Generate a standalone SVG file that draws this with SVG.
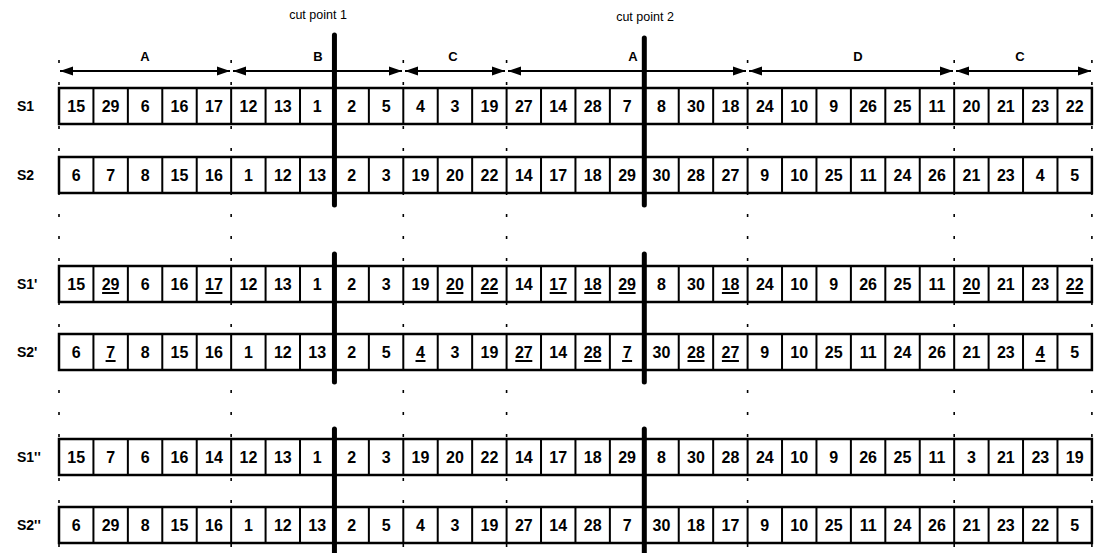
<svg xmlns="http://www.w3.org/2000/svg" width="1100" height="553" viewBox="0 0 1100 553">
<style>
.bg{fill:#fff}
.row{fill:#fff;stroke:#000;stroke-width:2.5}
.div{fill:none;stroke:#000;stroke-width:2}
.num{font-family:"Liberation Sans",Arial,sans-serif;font-weight:bold;font-size:16px;fill:#000;text-anchor:middle}
.lbl{font-family:"Liberation Sans",Arial,sans-serif;font-weight:bold;font-size:14px;fill:#000}
.seg{font-family:"Liberation Sans",Arial,sans-serif;font-weight:bold;font-size:13px;fill:#000;text-anchor:middle}
.cut{font-family:"Liberation Sans",Arial,sans-serif;font-size:12.5px;fill:#000;text-anchor:middle}
.ul{stroke:#000;stroke-width:2}
.cutline{stroke:#000;stroke-width:5;stroke-linecap:round}
.bound{stroke:#000;stroke-width:1.6;stroke-dasharray:3 19;fill:none}
.arr{stroke:#000;stroke-width:2;fill:none;marker-start:url(#ah);marker-end:url(#ah)}
</style>
<defs>
<marker id="ah" markerUnits="userSpaceOnUse" markerWidth="14" markerHeight="10" refX="13" refY="5" orient="auto-start-reverse">
<path d="M0,0.5 L13,5 L0,9.5 z" fill="#000"/>
</marker>
</defs>
<rect class="bg" x="0" y="0" width="1100" height="553"/>

<g id="header">
<text class="cut" x="318" y="19">cut point 1</text>
<text class="cut" x="645" y="21">cut point 2</text>
</g>

<g id="boundaries">
<line class="bound" x1="59" y1="60" x2="59" y2="548"/>
<line class="bound" x1="231.15" y1="60" x2="231.15" y2="548"/>
<line class="bound" x1="403.3" y1="60" x2="403.3" y2="548"/>
<line class="bound" x1="506.59" y1="60" x2="506.59" y2="548"/>
<line class="bound" x1="747.6" y1="60" x2="747.6" y2="548"/>
<line class="bound" x1="954.18" y1="60" x2="954.18" y2="548"/>
<line class="bound" x1="1091.9" y1="60" x2="1091.9" y2="548"/>
</g>

<g id="connectors">
<line class="arr" x1="60" y1="71" x2="230" y2="71"/>
<line class="arr" x1="233" y1="71" x2="402" y2="71"/>
<line class="arr" x1="405" y1="71" x2="505" y2="71"/>
<line class="arr" x1="508" y1="71" x2="746" y2="71"/>
<line class="arr" x1="749" y1="71" x2="953" y2="71"/>
<line class="arr" x1="956" y1="71" x2="1091" y2="71"/>
</g>

<g id="segment-labels">
<text class="seg" x="145" y="61">A</text>
<text class="seg" x="318" y="61">B</text>
<text class="seg" x="453" y="61">C</text>
<text class="seg" x="633" y="61">A</text>
<text class="seg" x="858" y="61">D</text>
<text class="seg" x="1020" y="61">C</text>
</g>

<g id="row-S1">
<text class="lbl" x="17" y="111">S1</text>
<rect class="row" x="59" y="88" width="1032.9" height="36"/>
<path class="div" d="M93.43,88V124M127.86,88V124M162.29,88V124M196.72,88V124M231.15,88V124M265.58,88V124M300.01,88V124M368.87,88V124M403.3,88V124M437.73,88V124M472.16,88V124M506.59,88V124M541.02,88V124M575.45,88V124M609.88,88V124M678.74,88V124M713.17,88V124M747.6,88V124M782.03,88V124M816.46,88V124M850.89,88V124M885.32,88V124M919.75,88V124M954.18,88V124M988.61,88V124M1023.04,88V124M1057.47,88V124"/>
<text class="num" x="76.2" y="112">15</text><text class="num" x="110.6" y="112">29</text><text class="num" x="145.1" y="112">6</text><text class="num" x="179.5" y="112">16</text><text class="num" x="213.9" y="112">17</text><text class="num" x="248.4" y="112">12</text><text class="num" x="282.8" y="112">13</text><text class="num" x="317.2" y="112">1</text>
<text class="num" x="351.7" y="112">2</text><text class="num" x="386.1" y="112">5</text><text class="num" x="420.5" y="112">4</text><text class="num" x="454.9" y="112">3</text><text class="num" x="489.4" y="112">19</text><text class="num" x="523.8" y="112">27</text><text class="num" x="558.2" y="112">14</text><text class="num" x="592.7" y="112">28</text><text class="num" x="627.1" y="112">7</text>
<text class="num" x="661.5" y="112">8</text><text class="num" x="696" y="112">30</text><text class="num" x="730.4" y="112">18</text><text class="num" x="764.8" y="112">24</text><text class="num" x="799.2" y="112">10</text><text class="num" x="833.7" y="112">9</text><text class="num" x="868.1" y="112">26</text><text class="num" x="902.5" y="112">25</text><text class="num" x="937" y="112">11</text><text class="num" x="971.4" y="112">20</text><text class="num" x="1005.8" y="112">21</text><text class="num" x="1040.3" y="112">23</text><text class="num" x="1074.7" y="112">22</text>
</g>

<g id="row-S2">
<text class="lbl" x="17" y="180">S2</text>
<rect class="row" x="59" y="157" width="1032.9" height="36"/>
<path class="div" d="M93.43,157V193M127.86,157V193M162.29,157V193M196.72,157V193M231.15,157V193M265.58,157V193M300.01,157V193M368.87,157V193M403.3,157V193M437.73,157V193M472.16,157V193M506.59,157V193M541.02,157V193M575.45,157V193M609.88,157V193M678.74,157V193M713.17,157V193M747.6,157V193M782.03,157V193M816.46,157V193M850.89,157V193M885.32,157V193M919.75,157V193M954.18,157V193M988.61,157V193M1023.04,157V193M1057.47,157V193"/>
<text class="num" x="76.2" y="181">6</text><text class="num" x="110.6" y="181">7</text><text class="num" x="145.1" y="181">8</text><text class="num" x="179.5" y="181">15</text><text class="num" x="213.9" y="181">16</text><text class="num" x="248.4" y="181">1</text><text class="num" x="282.8" y="181">12</text><text class="num" x="317.2" y="181">13</text>
<text class="num" x="351.7" y="181">2</text><text class="num" x="386.1" y="181">3</text><text class="num" x="420.5" y="181">19</text><text class="num" x="454.9" y="181">20</text><text class="num" x="489.4" y="181">22</text><text class="num" x="523.8" y="181">14</text><text class="num" x="558.2" y="181">17</text><text class="num" x="592.7" y="181">18</text><text class="num" x="627.1" y="181">29</text>
<text class="num" x="661.5" y="181">30</text><text class="num" x="696" y="181">28</text><text class="num" x="730.4" y="181">27</text><text class="num" x="764.8" y="181">9</text><text class="num" x="799.2" y="181">10</text><text class="num" x="833.7" y="181">25</text><text class="num" x="868.1" y="181">11</text><text class="num" x="902.5" y="181">24</text><text class="num" x="937" y="181">26</text><text class="num" x="971.4" y="181">21</text><text class="num" x="1005.8" y="181">23</text><text class="num" x="1040.3" y="181">4</text><text class="num" x="1074.7" y="181">5</text>
</g>

<g id="row-S1p">
<text class="lbl" x="17" y="289">S1'</text>
<rect class="row" x="59" y="266" width="1032.9" height="36"/>
<path class="div" d="M93.43,266V302M127.86,266V302M162.29,266V302M196.72,266V302M231.15,266V302M265.58,266V302M300.01,266V302M368.87,266V302M403.3,266V302M437.73,266V302M472.16,266V302M506.59,266V302M541.02,266V302M575.45,266V302M609.88,266V302M678.74,266V302M713.17,266V302M747.6,266V302M782.03,266V302M816.46,266V302M850.89,266V302M885.32,266V302M919.75,266V302M954.18,266V302M988.61,266V302M1023.04,266V302M1057.47,266V302"/>
<text class="num" x="76.2" y="290">15</text><text class="num" x="110.6" y="290">29</text><text class="num" x="145.1" y="290">6</text><text class="num" x="179.5" y="290">16</text><text class="num" x="213.9" y="290">17</text><text class="num" x="248.4" y="290">12</text><text class="num" x="282.8" y="290">13</text><text class="num" x="317.2" y="290">1</text>
<text class="num" x="351.7" y="290">2</text><text class="num" x="386.1" y="290">3</text><text class="num" x="420.5" y="290">19</text><text class="num" x="454.9" y="290">20</text><text class="num" x="489.4" y="290">22</text><text class="num" x="523.8" y="290">14</text><text class="num" x="558.2" y="290">17</text><text class="num" x="592.7" y="290">18</text><text class="num" x="627.1" y="290">29</text>
<text class="num" x="661.5" y="290">8</text><text class="num" x="696" y="290">30</text><text class="num" x="730.4" y="290">18</text><text class="num" x="764.8" y="290">24</text><text class="num" x="799.2" y="290">10</text><text class="num" x="833.7" y="290">9</text><text class="num" x="868.1" y="290">26</text><text class="num" x="902.5" y="290">25</text><text class="num" x="937" y="290">11</text><text class="num" x="971.4" y="290">20</text><text class="num" x="1005.8" y="290">21</text><text class="num" x="1040.3" y="290">23</text><text class="num" x="1074.7" y="290">22</text>
<path class="ul" d="M102.1,293H119.1M205.4,293H222.4M446.4,293H463.4M480.9,293H497.9M549.7,293H566.7M584.2,293H601.2M618.6,293H635.6M721.9,293H738.9M962.9,293H979.9M1066.2,293H1083.2"/>
</g>

<g id="row-S2p">
<text class="lbl" x="17" y="357">S2'</text>
<rect class="row" x="59" y="334" width="1032.9" height="36"/>
<path class="div" d="M93.43,334V370M127.86,334V370M162.29,334V370M196.72,334V370M231.15,334V370M265.58,334V370M300.01,334V370M368.87,334V370M403.3,334V370M437.73,334V370M472.16,334V370M506.59,334V370M541.02,334V370M575.45,334V370M609.88,334V370M678.74,334V370M713.17,334V370M747.6,334V370M782.03,334V370M816.46,334V370M850.89,334V370M885.32,334V370M919.75,334V370M954.18,334V370M988.61,334V370M1023.04,334V370M1057.47,334V370"/>
<text class="num" x="76.2" y="358">6</text><text class="num" x="110.6" y="358">7</text><text class="num" x="145.1" y="358">8</text><text class="num" x="179.5" y="358">15</text><text class="num" x="213.9" y="358">16</text><text class="num" x="248.4" y="358">1</text><text class="num" x="282.8" y="358">12</text><text class="num" x="317.2" y="358">13</text>
<text class="num" x="351.7" y="358">2</text><text class="num" x="386.1" y="358">5</text><text class="num" x="420.5" y="358">4</text><text class="num" x="454.9" y="358">3</text><text class="num" x="489.4" y="358">19</text><text class="num" x="523.8" y="358">27</text><text class="num" x="558.2" y="358">14</text><text class="num" x="592.7" y="358">28</text><text class="num" x="627.1" y="358">7</text>
<text class="num" x="661.5" y="358">30</text><text class="num" x="696" y="358">28</text><text class="num" x="730.4" y="358">27</text><text class="num" x="764.8" y="358">9</text><text class="num" x="799.2" y="358">10</text><text class="num" x="833.7" y="358">25</text><text class="num" x="868.1" y="358">11</text><text class="num" x="902.5" y="358">24</text><text class="num" x="937" y="358">26</text><text class="num" x="971.4" y="358">21</text><text class="num" x="1005.8" y="358">23</text><text class="num" x="1040.3" y="358">4</text><text class="num" x="1074.7" y="358">5</text>
<path class="ul" d="M105.6,361H115.6M415.5,361H425.5M515.3,361H532.3M584.2,361H601.2M622.1,361H632.1M687.5,361H704.5M721.9,361H738.9M1035.3,361H1045.3"/>
</g>

<g id="row-S1pp">
<text class="lbl" x="17" y="462">S1''</text>
<rect class="row" x="59" y="439" width="1032.9" height="36"/>
<path class="div" d="M93.43,439V475M127.86,439V475M162.29,439V475M196.72,439V475M231.15,439V475M265.58,439V475M300.01,439V475M368.87,439V475M403.3,439V475M437.73,439V475M472.16,439V475M506.59,439V475M541.02,439V475M575.45,439V475M609.88,439V475M678.74,439V475M713.17,439V475M747.6,439V475M782.03,439V475M816.46,439V475M850.89,439V475M885.32,439V475M919.75,439V475M954.18,439V475M988.61,439V475M1023.04,439V475M1057.47,439V475"/>
<text class="num" x="76.2" y="463">15</text><text class="num" x="110.6" y="463">7</text><text class="num" x="145.1" y="463">6</text><text class="num" x="179.5" y="463">16</text><text class="num" x="213.9" y="463">14</text><text class="num" x="248.4" y="463">12</text><text class="num" x="282.8" y="463">13</text><text class="num" x="317.2" y="463">1</text>
<text class="num" x="351.7" y="463">2</text><text class="num" x="386.1" y="463">3</text><text class="num" x="420.5" y="463">19</text><text class="num" x="454.9" y="463">20</text><text class="num" x="489.4" y="463">22</text><text class="num" x="523.8" y="463">14</text><text class="num" x="558.2" y="463">17</text><text class="num" x="592.7" y="463">18</text><text class="num" x="627.1" y="463">29</text>
<text class="num" x="661.5" y="463">8</text><text class="num" x="696" y="463">30</text><text class="num" x="730.4" y="463">28</text><text class="num" x="764.8" y="463">24</text><text class="num" x="799.2" y="463">10</text><text class="num" x="833.7" y="463">9</text><text class="num" x="868.1" y="463">26</text><text class="num" x="902.5" y="463">25</text><text class="num" x="937" y="463">11</text><text class="num" x="971.4" y="463">3</text><text class="num" x="1005.8" y="463">21</text><text class="num" x="1040.3" y="463">23</text><text class="num" x="1074.7" y="463">19</text>
</g>

<g id="row-S2pp">
<text class="lbl" x="17" y="530">S2''</text>
<rect class="row" x="59" y="507" width="1032.9" height="36"/>
<path class="div" d="M93.43,507V543M127.86,507V543M162.29,507V543M196.72,507V543M231.15,507V543M265.58,507V543M300.01,507V543M368.87,507V543M403.3,507V543M437.73,507V543M472.16,507V543M506.59,507V543M541.02,507V543M575.45,507V543M609.88,507V543M678.74,507V543M713.17,507V543M747.6,507V543M782.03,507V543M816.46,507V543M850.89,507V543M885.32,507V543M919.75,507V543M954.18,507V543M988.61,507V543M1023.04,507V543M1057.47,507V543"/>
<text class="num" x="76.2" y="531">6</text><text class="num" x="110.6" y="531">29</text><text class="num" x="145.1" y="531">8</text><text class="num" x="179.5" y="531">15</text><text class="num" x="213.9" y="531">16</text><text class="num" x="248.4" y="531">1</text><text class="num" x="282.8" y="531">12</text><text class="num" x="317.2" y="531">13</text>
<text class="num" x="351.7" y="531">2</text><text class="num" x="386.1" y="531">5</text><text class="num" x="420.5" y="531">4</text><text class="num" x="454.9" y="531">3</text><text class="num" x="489.4" y="531">19</text><text class="num" x="523.8" y="531">27</text><text class="num" x="558.2" y="531">14</text><text class="num" x="592.7" y="531">28</text><text class="num" x="627.1" y="531">7</text>
<text class="num" x="661.5" y="531">30</text><text class="num" x="696" y="531">18</text><text class="num" x="730.4" y="531">17</text><text class="num" x="764.8" y="531">9</text><text class="num" x="799.2" y="531">10</text><text class="num" x="833.7" y="531">25</text><text class="num" x="868.1" y="531">11</text><text class="num" x="902.5" y="531">24</text><text class="num" x="937" y="531">26</text><text class="num" x="971.4" y="531">21</text><text class="num" x="1005.8" y="531">23</text><text class="num" x="1040.3" y="531">22</text><text class="num" x="1074.7" y="531">5</text>
</g>

<g id="cut-lines">
<line class="cutline" x1="334.44" y1="35" x2="334.44" y2="205"/>
<line class="cutline" x1="334.44" y1="254" x2="334.44" y2="382"/>
<line class="cutline" x1="334.44" y1="429" x2="334.44" y2="553"/>
<line class="cutline" x1="644.31" y1="38" x2="644.31" y2="205"/>
<line class="cutline" x1="644.31" y1="254" x2="644.31" y2="382"/>
<line class="cutline" x1="644.31" y1="429" x2="644.31" y2="553"/>
</g>
</svg>
